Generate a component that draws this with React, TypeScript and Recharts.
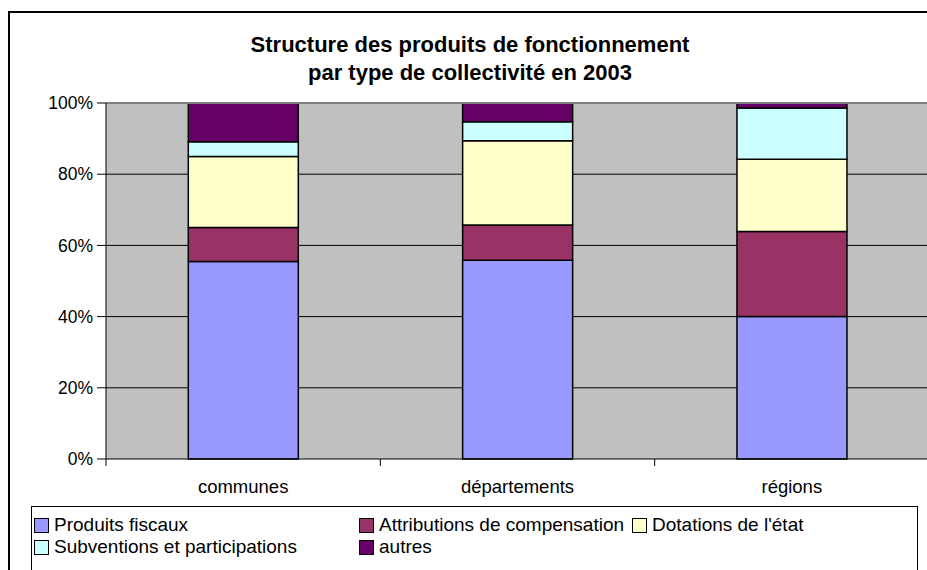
import { BarChart, Bar, XAxis, YAxis, CartesianGrid, ReferenceLine } from "recharts"

const categories = ["communes", "départements", "régions"]
const produitsFiscaux = [55.5, 55.8, 40.0]
const attributions = [9.5, 9.9, 23.9]
const dotations = [20.0, 23.7, 20.3]
const subventions = [4.1, 5.3, 14.4]
const autres = [10.9, 5.3, 1.4]
const yTicks = [0, 20, 40, 60, 80, 100]

const series = [
  { key: "fiscaux", name: "Produits fiscaux", values: produitsFiscaux, color: "#9999FF" },
  { key: "attrib", name: "Attributions de compensation", values: attributions, color: "#993366" },
  { key: "dotations", name: "Dotations de l'état", values: dotations, color: "#FFFFCC" },
  { key: "subv", name: "Subventions et participations", values: subventions, color: "#CCFFFF" },
  { key: "autres", name: "autres", values: autres, color: "#660066" },
]

const data = categories.map((c, i) => {
  const row: Record<string, string | number> = { name: c }
  series.forEach((s) => (row[s.key] = s.values[i]))
  return row
})

const FONT = "Arial, 'Liberation Sans', sans-serif"

// category label + a tick mark on the left edge of each band
function CatTick(props: any) {
  const { x, y, payload } = props
  const half = payload?.offset ?? 137
  return (
    <g>
      <line x1={x - half} x2={x - half} y1={y - 8} y2={y - 1} stroke="#000" />
      <text x={x} y={y + 26} textAnchor="middle" fontSize={18.5} fill="#000" fontFamily={FONT}>
        {payload.value}
      </text>
    </g>
  )
}

const legendCols = ["325px", "273px", "auto"]

export default function App() {
  return (
    <div style={{ position: "absolute", left: 0, top: 0, width: 927, height: 570, overflow: "hidden", background: "#fff", fontFamily: FONT }}>
      <div style={{ position: "absolute", left: 8, top: 11, width: 940, height: 580, border: "2px solid #000" }} />
      <div style={{ position: "absolute", left: 0, top: 31, width: 940, textAlign: "center", fontWeight: "bold", fontSize: 22, lineHeight: "28px", color: "#000" }}>
        Structure des produits de fonctionnement
        <br />
        par type de collectivité en 2003
      </div>
      <div style={{ position: "absolute", left: 0, top: 0 }}>
        <BarChart width={929} height={570} data={data} barCategoryGap="30%" margin={{ top: 103, right: 0, bottom: 81, left: 46 }}>
          <CartesianGrid fill="#C0C0C0" vertical={false} stroke="#000" horizontalValues={[20, 40, 60, 80]} />
          <ReferenceLine y={100} stroke="#808080" strokeWidth={2} />
          <XAxis dataKey="name" axisLine={{ stroke: "#000" }} tickLine={false} tick={<CatTick />} height={30} interval={0} />
          <YAxis
            domain={[0, 100]}
            ticks={yTicks}
            width={60}
            tickFormatter={(v) => `${v}%`}
            axisLine={{ stroke: "#000" }}
            tickLine={{ stroke: "#000" }}
            tickSize={9}
            tickMargin={4}
            tick={{ fontSize: 17.5, fill: "#000", fontFamily: FONT }}
          />
          {series.map((s) => (
            <Bar key={s.key} dataKey={s.key} name={s.name} stackId="a" fill={s.color} stroke="#000" strokeWidth={1.5} isAnimationActive={false} />
          ))}
        </BarChart>
      </div>
      <div style={{ position: "absolute", left: 31, top: 506, width: 887, height: 80, border: "1px solid #000", boxSizing: "border-box", background: "#fff" }}>
        <div style={{ display: "grid", gridTemplateColumns: legendCols.join(" "), paddingLeft: 2, paddingTop: 7, rowGap: 0 }}>
          {series.map((s) => (
            <div key={s.key} style={{ display: "flex", alignItems: "center", fontSize: 19, lineHeight: "22px", color: "#000", whiteSpace: "nowrap" }}>
              <span style={{ display: "inline-block", flex: "none", width: 13, height: 13, background: s.color, border: "1px solid #000", marginRight: 5 }} />
              {s.name}
            </div>
          ))}
        </div>
      </div>
    </div>
  )
}
